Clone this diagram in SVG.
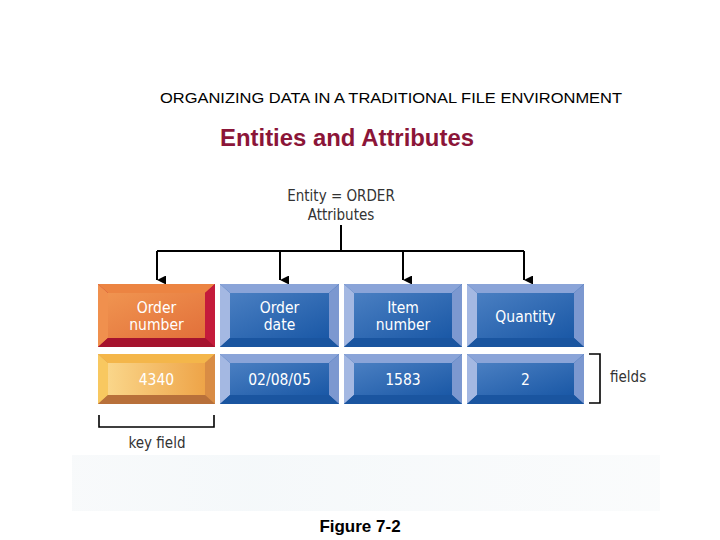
<svg xmlns="http://www.w3.org/2000/svg" width="720" height="540" viewBox="0 0 720 540">
<defs>
<linearGradient id="gBlue" x1="0" y1="0" x2="1" y2="1"><stop offset="0" stop-color="#4a7fc2"/><stop offset="1" stop-color="#1a58a6"/></linearGradient>
<linearGradient id="gOrange" x1="0" y1="0" x2="1" y2="1"><stop offset="0" stop-color="#f09450"/><stop offset="1" stop-color="#e2703a"/></linearGradient>
<linearGradient id="gYellow" x1="0" y1="0" x2="1" y2="0"><stop offset="0" stop-color="#fad68a"/><stop offset="1" stop-color="#eea448"/></linearGradient>
<linearGradient id="gFade" x1="0" y1="0" x2="1" y2="0"><stop offset="0" stop-color="#f3f6f8"/><stop offset="0.3" stop-color="#eef4f7"/><stop offset="1" stop-color="#f7f9fa"/></linearGradient>
<marker id="arr" viewBox="0 0 10 10" refX="5" refY="10" markerWidth="9" markerHeight="9" markerUnits="userSpaceOnUse" orient="auto-start-reverse"><path d="M0,0 L10,0 L5,10 Z" fill="#000"/></marker>
</defs>
<style>
.title{font-family:"Liberation Sans",Arial,sans-serif;font-size:15.5px;fill:#000}
.sub{font-family:"Liberation Sans",Arial,sans-serif;font-size:23px;font-weight:bold;fill:#8b1538}
.lbl{font-family:"DejaVu Sans Condensed","DejaVu Sans",sans-serif;font-size:15px;fill:#333}
.box{font-family:"DejaVu Sans Condensed","DejaVu Sans",sans-serif;font-size:15.5px;fill:#fff;text-anchor:middle}
.fig{font-family:"Liberation Sans",Arial,sans-serif;font-size:17px;font-weight:bold;fill:#000;text-anchor:middle}
.conn{stroke:#000;stroke-width:2;fill:none}
.br{stroke:#000;stroke-width:1.6;fill:none}
</style>
<rect x="0" y="0" width="720" height="540" fill="#fff"/>
<rect x="72" y="455" width="588" height="56" fill="url(#gFade)" opacity="0.6"/>
<text class="title" x="160" y="103" textLength="462" lengthAdjust="spacingAndGlyphs">ORGANIZING DATA IN A TRADITIONAL FILE ENVIRONMENT</text>
<text class="sub" x="220" y="146" textLength="254" lengthAdjust="spacingAndGlyphs">Entities and Attributes</text>
<g id="entity-label">
<text class="lbl" x="341" y="201" text-anchor="middle">Entity = ORDER</text>
<text class="lbl" x="341" y="220" text-anchor="middle">Attributes</text>
</g>
<g id="connectors">
<path class="conn" d="M341,225 V251"/>
<path class="conn" d="M157,251 H524"/>
<path class="conn" d="M157,251 V280" marker-end="url(#arr)"/>
<path class="conn" d="M280,251 V280" marker-end="url(#arr)"/>
<path class="conn" d="M403,251 V280" marker-end="url(#arr)"/>
<path class="conn" d="M524,251 V280" marker-end="url(#arr)"/>
</g>
<g id="order-number">
<rect x="98" y="284" width="117" height="63" fill="#b5172f"/>
<polygon points="98,284 215,284 205,293 108,293" fill="#ec8442"/>
<polygon points="98,284 108,293 108,338 98,347" fill="#f0904e"/>
<polygon points="215,284 205,293 205,338 215,347" fill="#c41b3b"/>
<polygon points="98,347 108,338 205,338 215,347" fill="#a5132e"/>
<rect x="108" y="293" width="97" height="45" fill="url(#gOrange)"/>
<text class="box" x="156.5" y="313">Order</text>
<text class="box" x="156.5" y="330">number</text>
</g>
<g id="order-date">
<rect x="220" y="284" width="119" height="63" fill="#1f5ca8"/>
<polygon points="220,284 339,284 329,293 230,293" fill="#8aa4d8"/>
<polygon points="220,284 230,293 230,338 220,347" fill="#a4b8e2"/>
<polygon points="339,284 329,293 329,338 339,347" fill="#7c98d0"/>
<polygon points="220,347 230,338 329,338 339,347" fill="#1a55a0"/>
<rect x="230" y="293" width="99" height="45" fill="url(#gBlue)"/>
<text class="box" x="279.5" y="313">Order</text>
<text class="box" x="279.5" y="330">date</text>
</g>
<g id="item-number">
<rect x="344" y="284" width="118" height="63" fill="#1f5ca8"/>
<polygon points="344,284 462,284 452,293 354,293" fill="#8aa4d8"/>
<polygon points="344,284 354,293 354,338 344,347" fill="#a4b8e2"/>
<polygon points="462,284 452,293 452,338 462,347" fill="#7c98d0"/>
<polygon points="344,347 354,338 452,338 462,347" fill="#1a55a0"/>
<rect x="354" y="293" width="98" height="45" fill="url(#gBlue)"/>
<text class="box" x="403" y="313">Item</text>
<text class="box" x="403" y="330">number</text>
</g>
<g id="quantity">
<rect x="467" y="284" width="117" height="63" fill="#1f5ca8"/>
<polygon points="467,284 584,284 574,293 477,293" fill="#8aa4d8"/>
<polygon points="467,284 477,293 477,338 467,347" fill="#a4b8e2"/>
<polygon points="584,284 574,293 574,338 584,347" fill="#7c98d0"/>
<polygon points="467,347 477,338 574,338 584,347" fill="#1a55a0"/>
<rect x="477" y="293" width="97" height="45" fill="url(#gBlue)"/>
<text class="box" x="525.5" y="322">Quantity</text>
</g>
<g id="val-4340">
<rect x="98" y="354" width="117" height="50" fill="#c98a4a"/>
<polygon points="98,354 215,354 205,363 108,363" fill="#f4b64a"/>
<polygon points="98,354 108,363 108,395 98,404" fill="#f8c860"/>
<polygon points="215,354 205,363 205,395 215,404" fill="#d98c44"/>
<polygon points="98,404 108,395 205,395 215,404" fill="#b8703a"/>
<rect x="108" y="363" width="97" height="32" fill="url(#gYellow)"/>
<text class="box" x="156.5" y="385" fill="#fff3d8">4340</text>
</g>
<g id="val-date">
<rect x="220" y="354" width="119" height="50" fill="#1f5ca8"/>
<polygon points="220,354 339,354 329,363 230,363" fill="#8aa4d8"/>
<polygon points="220,354 230,363 230,395 220,404" fill="#a4b8e2"/>
<polygon points="339,354 329,363 329,395 339,404" fill="#7c98d0"/>
<polygon points="220,404 230,395 329,395 339,404" fill="#1a55a0"/>
<rect x="230" y="363" width="99" height="32" fill="url(#gBlue)"/>
<text class="box" x="279.5" y="385">02/08/05</text>
</g>
<g id="val-1583">
<rect x="344" y="354" width="118" height="50" fill="#1f5ca8"/>
<polygon points="344,354 462,354 452,363 354,363" fill="#8aa4d8"/>
<polygon points="344,354 354,363 354,395 344,404" fill="#a4b8e2"/>
<polygon points="462,354 452,363 452,395 462,404" fill="#7c98d0"/>
<polygon points="344,404 354,395 452,395 462,404" fill="#1a55a0"/>
<rect x="354" y="363" width="98" height="32" fill="url(#gBlue)"/>
<text class="box" x="403" y="385">1583</text>
</g>
<g id="val-2">
<rect x="467" y="354" width="117" height="50" fill="#1f5ca8"/>
<polygon points="467,354 584,354 574,363 477,363" fill="#8aa4d8"/>
<polygon points="467,354 477,363 477,395 467,404" fill="#a4b8e2"/>
<polygon points="584,354 574,363 574,395 584,404" fill="#7c98d0"/>
<polygon points="467,404 477,395 574,395 584,404" fill="#1a55a0"/>
<rect x="477" y="363" width="97" height="32" fill="url(#gBlue)"/>
<text class="box" x="525.5" y="385">2</text>
</g>
<g id="key-field">
<path class="br" d="M99,415 V427 H214 V415"/>
<text class="lbl" x="157" y="448" text-anchor="middle">key field</text>
</g>
<g id="fields">
<path class="br" d="M589,354 H600 V403 H589"/>
<text class="lbl" x="610" y="382">fields</text>
</g>
<text class="fig" x="360" y="532">Figure 7-2</text>
</svg>
